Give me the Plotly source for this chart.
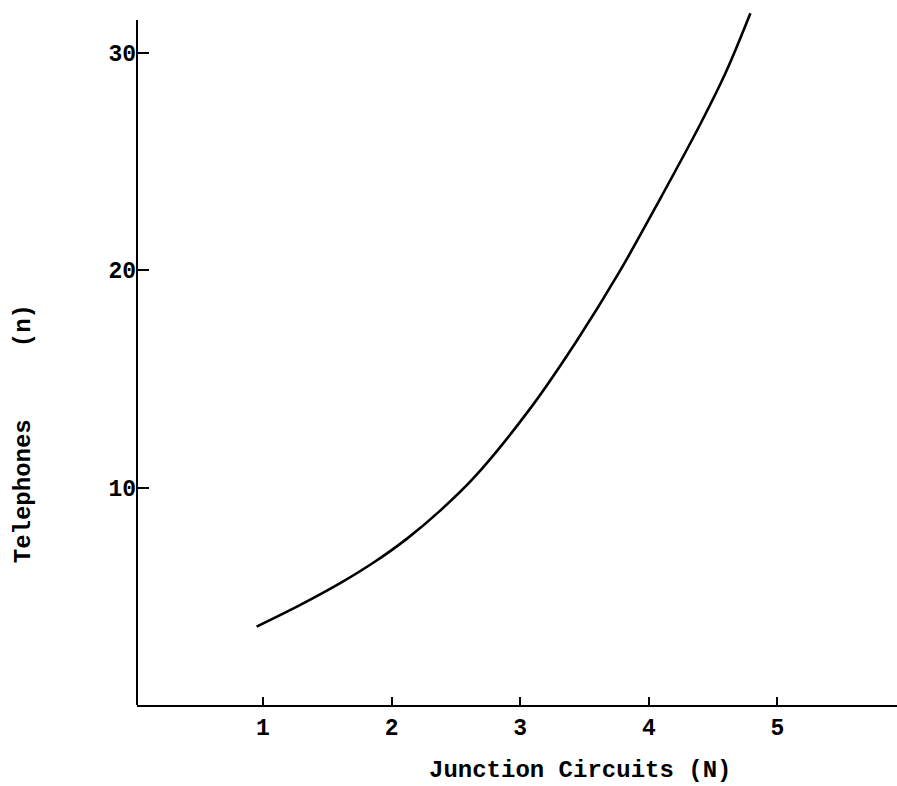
import plotly.graph_objects as go

junction_circuits = [0.95, 1.29, 1.60, 1.86, 2.12, 2.38, 2.64, 3.08, 3.44, 3.77, 4.10, 4.40, 4.60, 4.79]
telephones = [3.6, 4.6, 5.6, 6.55, 7.65, 8.95, 10.45, 13.65, 16.75, 19.9, 23.4, 26.7, 29.1, 31.8]

x_ticks = [1, 2, 3, 4, 5]
y_ticks = [10, 20, 30]
x_title = "Junction Circuits (N)"
y_title = "Telephones     (n)"

FONT = "Liberation Mono"

fig = go.Figure()
fig.add_trace(go.Scatter(
    x=junction_circuits, y=telephones, mode="lines",
    line=dict(color="black", width=2.6, shape="spline", smoothing=1.0),
    showlegend=False, hoverinfo="skip",
))

# y axis line stops a little short of the top of the plot area
fig.add_shape(type="line", xref="paper", yref="y", x0=0, x1=0, y0=0, y1=31.5,
              line=dict(color="black", width=2))

fig.add_annotation(text=x_title, xref="paper", yref="paper", x=0.583, y=-0.0934,
                   showarrow=False, xanchor="center", yanchor="middle",
                   font=dict(family=FONT, size=24, weight="bold", color="black"))
fig.add_annotation(text=y_title, xref="paper", yref="paper", x=-0.15, y=0.389,
                   showarrow=False, xanchor="center", yanchor="middle", textangle=-90,
                   font=dict(family=FONT, size=24, weight="bold", color="black"))

fig.update_layout(
    width=897, height=786,
    margin=dict(l=137, r=0, t=9, b=81),
    paper_bgcolor="white", plot_bgcolor="white",
    font=dict(family=FONT, color="black", size=20),
    xaxis=dict(
        range=[0.02, 5.93], tickvals=x_ticks, ticktext=[str(v) for v in x_ticks],
        ticks="inside", ticklen=8, tickwidth=2, tickcolor="black",
        showline=True, linecolor="black", linewidth=2,
        showgrid=False, zeroline=False,
        tickfont=dict(family=FONT, size=23, weight="bold"),
    ),
    yaxis=dict(
        range=[0, 32], tickvals=y_ticks, ticktext=[str(v) for v in y_ticks],
        ticks="inside", ticklen=12, tickwidth=2, tickcolor="black",
        showline=False, showgrid=False, zeroline=False,
        tickfont=dict(family=FONT, size=23, weight="bold"),
    ),
)

fig.write_html(
    "out.html",
    config={"displayModeBar": False},
    post_script="document.body.style.margin='0px';document.body.style.overflow='hidden';",
)
